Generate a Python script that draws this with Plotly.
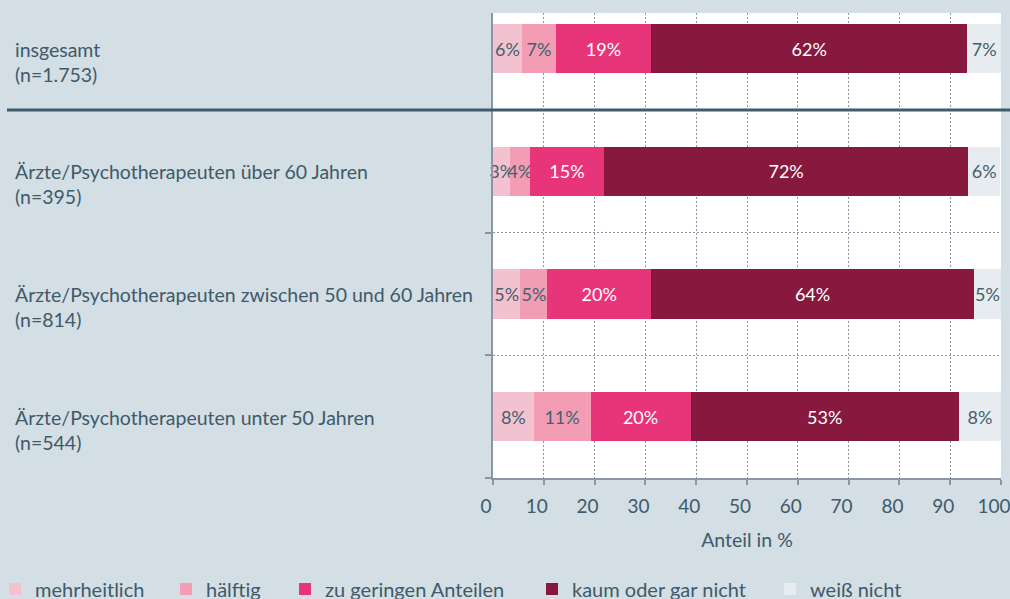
import plotly.graph_objects as go

# Categories from bottom to top
groups = [
    "Ärzte/Psychotherapeuten unter 50 Jahren",
    "Ärzte/Psychotherapeuten zwischen 50 und 60 Jahren",
    "Ärzte/Psychotherapeuten über 60 Jahren",
    "insgesamt",
]
n_labels = ["544", "814", "395", "1.753"]

series_names = ["mehrheitlich", "hälftig", "zu geringen Anteilen", "kaum oder gar nicht", "weiß nicht"]
mehrheitlich = [8.0, 5.4, 3.4, 5.7]
haelftig = [11.2, 5.3, 3.8, 6.7]
gering = [19.7, 20.4, 14.7, 18.7]
kaum = [52.8, 63.6, 71.6, 62.3]
weiss = [8.3, 5.3, 6.4, 6.6]

colors = ["#F2C2D1", "#F29DB4", "#E8357A", "#87193F", "#E6ECF0"]
text_colors = ["#45606F", "#45606F", "#FFFFFF", "#FFFFFF", "#45606F"]

x_ticks = [0, 10, 20, 30, 40, 50, 60, 70, 80, 90, 100]
x_title = "Anteil in %"

FONT = "Lato"
TXT = "#3F5A6A"
BG = "#D3DEE5"
GRID = "#8C95A5"

fig = go.Figure()
all_series = [mehrheitlich, haelftig, gering, kaum, weiss]
legend_ids = ["legend", "legend2", "legend3", "legend4", "legend5"]
for name, vals, col, tcol, lg in zip(series_names, all_series, colors, text_colors, legend_ids):
    fig.add_trace(go.Bar(
        y=groups, x=vals, name=name, orientation="h",
        marker=dict(color=col, line=dict(width=0)),
        width=0.4,
        text=[f"{v:.0f}%" for v in vals],
        textposition="inside", insidetextanchor="middle",
        constraintext="none", textangle=0,
        textfont=dict(family=FONT, size=18, color=tcol),
        cliponaxis=False,
        legend=lg,
        hoverinfo="skip",
    ))

# left labels
for g, n in zip(groups, n_labels):
    fig.add_annotation(
        xref="paper", yref="y", x=-0.9449, y=g,
        text=f"{g}<br>(n={n})", showarrow=False,
        xanchor="left", yanchor="middle", align="left", yshift=-13,
        font=dict(family=FONT, size=19.5, color=TXT),
    )

# separator line between total and subgroups
fig.add_shape(type="line", xref="paper", yref="y",
              x0=-0.9567, x1=1.02, y0=2.5, y1=2.5,
              line=dict(color="#3E5C6C", width=3), layer="above")

legend_x = [-0.9803, -0.6437, -0.4094, 0.0768, 0.5453]
layout_legends = {}
for lg, lx in zip(legend_ids, legend_x):
    layout_legends[lg] = dict(
        x=lx, y=-0.2387, xanchor="left", yanchor="middle",
        orientation="h", bgcolor="rgba(0,0,0,0)", borderwidth=0,
        font=dict(family=FONT, size=20, color=TXT),
    )

fig.update_layout(
    width=1010, height=599,
    margin=dict(l=493, r=9, t=13, b=121, pad=0, autoexpand=False),
    paper_bgcolor=BG, plot_bgcolor="#FFFFFF",
    barmode="stack", bargap=0.6,
    showlegend=True,
    font=dict(family=FONT, size=19, color=TXT),
    xaxis=dict(
        range=[0, 100], tickvals=x_ticks, ticks="outside", ticklen=5,
        tickcolor=GRID, tickwidth=2,
        showline=True, linecolor=GRID, linewidth=2,
        showgrid=True, gridcolor=GRID, griddash="2px,2px", gridwidth=1,
        zeroline=False, ticklabeloverflow="allow", ticklabelstandoff=5,
        ticklabelshift=-7,
        tickfont=dict(family=FONT, size=19, color=TXT),
        title=dict(text=x_title, font=dict(family=FONT, size=19.5, color=TXT), standoff=18),
        fixedrange=True,
    ),
    yaxis=dict(
        categoryorder="array", categoryarray=groups,
        range=[-0.5, 3.29], tickson="boundaries",
        ticks="outside", ticklen=6, tickcolor=GRID, tickwidth=2,
        showticklabels=False,
        showline=True, linecolor=GRID, linewidth=2,
        showgrid=True, gridcolor=GRID, griddash="2px,2px", gridwidth=1,
        zeroline=False, fixedrange=True,
    ),
    **layout_legends,
)

fig.write_html("out.html", config={"displayModeBar": False},
               post_script="document.body.style.margin='0';document.body.style.overflow='hidden';")
